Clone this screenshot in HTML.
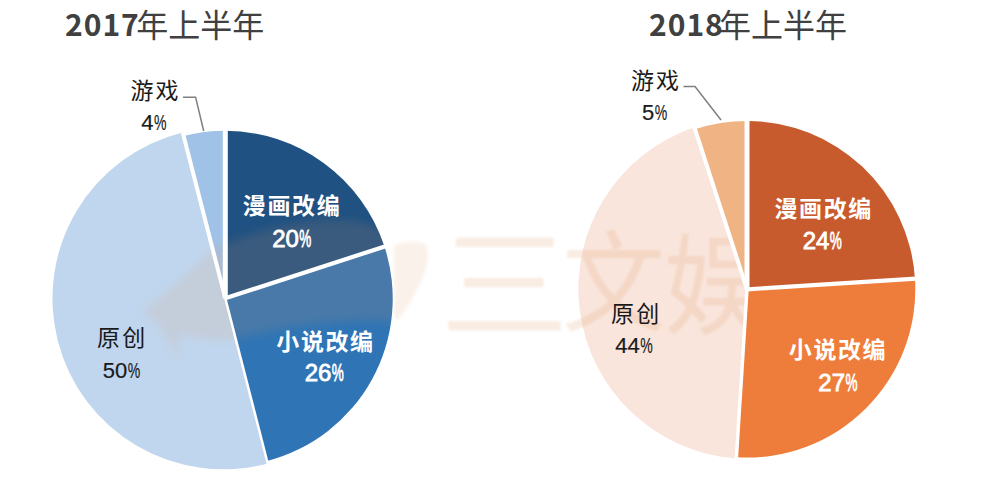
<!DOCTYPE html>
<html lang="zh-CN"><head><meta charset="utf-8"><title>2017 vs 2018</title>
<style>html,body{margin:0;padding:0;background:#fff;width:994px;height:490px;overflow:hidden}svg{display:block}</style>
</head><body>
<svg width="994" height="490" viewBox="0 0 994 490">
<rect width="994" height="490" fill="#ffffff"/>
<path d="M225.30,298.30 L225.30,130.80 A167.8,167.8 0 0 1 384.44,246.59 Z" fill="#1f5182"/>
<path d="M225.30,298.30 L384.44,246.59 A167.8,167.8 0 0 1 267.08,461.01 Z" fill="#2f74b5"/>
<path d="M225.30,298.30 L267.72,463.50 A170.9,170.9 0 1 1 182.72,132.46 Z" fill="#c0d6ee"/>
<path d="M225.30,298.30 L183.62,135.96 A167.8,167.8 0 0 1 225.30,130.80 Z" fill="#a0c2e6"/>
<defs><filter id="bl" x="-10%" y="-10%" width="120%" height="120%"><feGaussianBlur stdDeviation="4.5"/></filter><filter id="bl2"><feGaussianBlur stdDeviation="1"/></filter><filter id="bl3" x="-20%" y="-20%" width="140%" height="140%"><feGaussianBlur stdDeviation="1.8"/></filter><clipPath id="pc"><circle cx="224.9" cy="298.6" r="167.8"/></clipPath></defs><g clip-path="url(#pc)"><path filter="url(#bl)" d="M142,311 C165,295 190,272 212,250 C250,232 300,218 345,220 C370,222 392,232 405,240 C420,248 425,266 420,286 C415,303 405,316 394,322 C350,318 290,325 240,338 C215,342 195,338 180,333 L177,360 C172,345 160,322 142,311 Z" fill="rgb(220,150,95)" fill-opacity="0.14"/></g><path filter="url(#bl3)" d="M394,247 C396,242 414,240 423,243 C429,246 429,257 426,268 C420,288 409,305 399,319 C396,322 394,318 394,312 Z" fill="rgb(220,150,95)" fill-opacity="0.13"/>
<line x1="225.30" y1="298.30" x2="225.30" y2="129.00" stroke="#fff" stroke-width="5"/><line x1="225.30" y1="298.30" x2="386.31" y2="245.98" stroke="#fff" stroke-width="4.2"/><line x1="225.30" y1="298.30" x2="268.30" y2="465.77" stroke="#fff" stroke-width="2.5"/><line x1="225.30" y1="298.30" x2="182.80" y2="132.77" stroke="#fff" stroke-width="4"/>
<path d="M747.00,289.30 L736.35,458.55 A170.3,170.3 0 0 1 694.36,127.30 Z" fill="#f9e5dc"/>
<g filter="url(#bl2)" fill="rgb(220,150,95)" fill-opacity="0.18" font-family='Noto Sans CJK SC, sans-serif' font-weight="400"><text transform="translate(439.9,328.6) scale(1.05,1)" font-size="123">三</text><text transform="translate(561.9,323.3) scale(0.94,1)" font-size="110">文</text><text transform="translate(664,326) scale(0.94,1)" font-size="110">娱</text></g>
<path d="M747.00,289.30 L747.00,121.00 A168.3,168.3 0 0 1 914.97,278.73 Z" fill="#c85b2e"/>
<path d="M747.00,289.30 L914.97,278.73 A168.3,168.3 0 0 1 736.43,457.27 Z" fill="#ee7d3b"/>
<path d="M747.00,289.30 L694.99,129.24 A168.3,168.3 0 0 1 747.00,121.00 Z" fill="#f0b384"/>
<line x1="747.00" y1="289.30" x2="747.00" y2="116.00" stroke="#fff" stroke-width="5"/>
<line x1="747.00" y1="289.30" x2="919.96" y2="278.42" stroke="#fff" stroke-width="4.2"/>
<line x1="747.00" y1="289.30" x2="736.12" y2="462.26" stroke="#fff" stroke-width="3.5"/>
<line x1="747.00" y1="289.30" x2="693.45" y2="124.48" stroke="#fff" stroke-width="4"/>
<polyline points="183,97.2 195.6,97.2 203.7,131" fill="none" stroke="#7f7f7f" stroke-width="1.5"/><polyline points="683.5,86.5 695,86.5 721,120" fill="none" stroke="#7f7f7f" stroke-width="1.5"/>
<text x="65" y="36" font-size="30" font-weight="700" fill="#404040" letter-spacing="1" font-family='Noto Sans CJK SC, sans-serif'>2017</text><text x="136.3" y="36.5" font-size="32" font-weight="400" fill="#404040" font-family='"Liberation Sans","Noto Sans CJK SC",sans-serif' text-anchor="start" letter-spacing="0">年上半年</text><text x="649" y="36" font-size="30" font-weight="700" fill="#404040" letter-spacing="1" font-family='Noto Sans CJK SC, sans-serif'>2018</text><text x="719" y="36.5" font-size="32" font-weight="400" fill="#404040" font-family='"Liberation Sans","Noto Sans CJK SC",sans-serif' text-anchor="start" letter-spacing="0">年上半年</text>
<text x="130.40" y="99.00" font-size="23.00" font-weight="400" fill="#1a1a1a" font-family='"Liberation Sans","Noto Sans CJK SC",sans-serif' letter-spacing="2.20">游戏</text><text x="141.21" y="129.6" font-size="22" font-weight="400" fill="#1a1a1a" stroke="#1a1a1a" stroke-width="0.2" font-family="Liberation Sans, sans-serif">4</text><text x="153.94" y="129.6" font-size="22" font-weight="400" fill="#1a1a1a" stroke="#1a1a1a" stroke-width="0.2" font-family="Liberation Sans, sans-serif" textLength="12.5" lengthAdjust="spacingAndGlyphs">%</text><text x="242.86" y="214.40" font-size="23.00" font-weight="700" fill="#ffffff" font-family='"Liberation Sans","Noto Sans CJK SC",sans-serif' letter-spacing="1.60">漫画改编</text><text x="272.15" y="247.12" font-size="24" font-weight="400" fill="#ffffff" stroke="#ffffff" stroke-width="0.8" font-family="Liberation Sans, sans-serif">20</text><text x="299.34" y="247.12" font-size="24" font-weight="400" fill="#ffffff" stroke="#ffffff" stroke-width="0.8" font-family="Liberation Sans, sans-serif" textLength="12.0" lengthAdjust="spacingAndGlyphs">%</text><text x="276.32" y="349.80" font-size="23.00" font-weight="700" fill="#ffffff" font-family='"Liberation Sans","Noto Sans CJK SC",sans-serif' letter-spacing="1.60">小说改编</text><text x="304.66" y="381.4" font-size="24" font-weight="400" fill="#ffffff" stroke="#ffffff" stroke-width="0.8" font-family="Liberation Sans, sans-serif">26</text><text x="331.85" y="381.4" font-size="24" font-weight="400" fill="#ffffff" stroke="#ffffff" stroke-width="0.8" font-family="Liberation Sans, sans-serif" textLength="12.0" lengthAdjust="spacingAndGlyphs">%</text><text x="97.10" y="346.24" font-size="23.00" font-weight="400" fill="#1a1a1a" font-family='"Liberation Sans","Noto Sans CJK SC",sans-serif' letter-spacing="2.20">原创</text><text x="102.74" y="377.91" font-size="22" font-weight="400" fill="#1a1a1a" stroke="#1a1a1a" stroke-width="0.2" font-family="Liberation Sans, sans-serif">50</text><text x="127.70" y="377.91" font-size="22" font-weight="400" fill="#1a1a1a" stroke="#1a1a1a" stroke-width="0.2" font-family="Liberation Sans, sans-serif" textLength="12.5" lengthAdjust="spacingAndGlyphs">%</text><text x="630.90" y="89.28" font-size="23.00" font-weight="400" fill="#1a1a1a" font-family='"Liberation Sans","Noto Sans CJK SC",sans-serif' letter-spacing="2.20">游戏</text><text x="642.04" y="119.72" font-size="22" font-weight="400" fill="#1a1a1a" stroke="#1a1a1a" stroke-width="0.2" font-family="Liberation Sans, sans-serif">5</text><text x="654.77" y="119.72" font-size="22" font-weight="400" fill="#1a1a1a" stroke="#1a1a1a" stroke-width="0.2" font-family="Liberation Sans, sans-serif" textLength="12.5" lengthAdjust="spacingAndGlyphs">%</text><text x="774.45" y="216.98" font-size="23.00" font-weight="700" fill="#ffffff" font-family='"Liberation Sans","Noto Sans CJK SC",sans-serif' letter-spacing="1.60">漫画改编</text><text x="802.67" y="249.16" font-size="24" font-weight="400" fill="#ffffff" stroke="#ffffff" stroke-width="0.8" font-family="Liberation Sans, sans-serif">24</text><text x="829.86" y="249.16" font-size="24" font-weight="400" fill="#ffffff" stroke="#ffffff" stroke-width="0.8" font-family="Liberation Sans, sans-serif" textLength="12.0" lengthAdjust="spacingAndGlyphs">%</text><text x="788.82" y="358.30" font-size="23.00" font-weight="700" fill="#ffffff" font-family='"Liberation Sans","Noto Sans CJK SC",sans-serif' letter-spacing="1.60">小说改编</text><text x="818.37" y="390.7" font-size="24" font-weight="400" fill="#ffffff" stroke="#ffffff" stroke-width="0.8" font-family="Liberation Sans, sans-serif">27</text><text x="845.56" y="390.7" font-size="24" font-weight="400" fill="#ffffff" stroke="#ffffff" stroke-width="0.8" font-family="Liberation Sans, sans-serif" textLength="12.0" lengthAdjust="spacingAndGlyphs">%</text><text x="610.99" y="322.17" font-size="23.00" font-weight="400" fill="#1a1a1a" font-family='"Liberation Sans","Noto Sans CJK SC",sans-serif' letter-spacing="2.20">原创</text><text x="615.33" y="353.46" font-size="22" font-weight="400" fill="#1a1a1a" stroke="#1a1a1a" stroke-width="0.2" font-family="Liberation Sans, sans-serif">44</text><text x="640.29" y="353.46" font-size="22" font-weight="400" fill="#1a1a1a" stroke="#1a1a1a" stroke-width="0.2" font-family="Liberation Sans, sans-serif" textLength="12.5" lengthAdjust="spacingAndGlyphs">%</text>
</svg>
</body></html>
